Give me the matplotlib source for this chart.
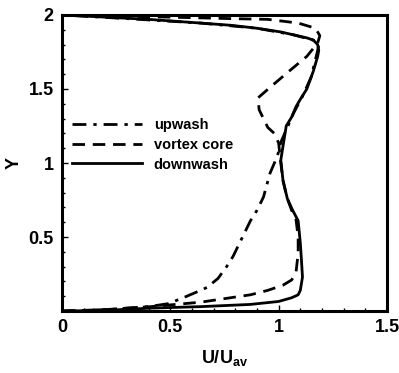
#!/usr/bin/env python3
# -*- coding: utf-8 -*-

import matplotlib
matplotlib.use("Agg")
import matplotlib.pyplot as plt
from matplotlib.ticker import MultipleLocator

# Velocity profiles (U/U_av vs Y)
UPWASH_U = [0, 0.2, 0.4, 0.49, 0.56, 0.64, 0.67, 0.72, 0.76, 0.79, 0.82, 0.87,
            0.90, 0.93, 0.96, 0.995, 1.01, 1.04, 1.07, 1.11, 1.15, 1.18, 1.185,
            1.16, 1.07, 0.9, 0.64, 0.3, 0]
UPWASH_Y = [0, 0.01, 0.03, 0.05, 0.09, 0.14, 0.16, 0.22, 0.30, 0.37, 0.46, 0.61,
            0.68, 0.77, 0.93, 1.05, 1.14, 1.24, 1.34, 1.45, 1.58, 1.76, 1.80,
            1.83, 1.865, 1.91, 1.945, 1.975, 2.0]

VORTEX_U = [0, 0.2, 0.41, 0.64, 0.87, 0.95, 1.02, 1.06, 1.08, 1.09, 1.09, 1.08,
            1.06, 1.04, 1.02, 1.01, 1.0, 0.98, 0.95, 0.93, 0.91, 0.905, 0.96,
            1.04, 1.13, 1.18, 1.19, 1.17, 1.09, 0.95, 0.78, 0.5, 0]
VORTEX_Y = [0, 0.01, 0.03, 0.06, 0.11, 0.14, 0.175, 0.21, 0.26, 0.39, 0.5, 0.62,
            0.68, 0.76, 0.88, 1.0, 1.135, 1.2, 1.24, 1.30, 1.36, 1.44, 1.51,
            1.61, 1.72, 1.81, 1.86, 1.91, 1.945, 1.97, 1.975, 1.985, 2.0]

DOWNWASH_U = [0, 0.2, 0.41, 0.64, 0.87, 1.0, 1.06, 1.09, 1.10, 1.11, 1.105, 1.10,
              1.09, 1.065, 1.04, 1.02, 1.01, 1.035, 1.06, 1.08, 1.10, 1.13, 1.16,
              1.18, 1.185, 1.18, 1.16, 1.13, 1.07, 1.01, 0.9, 0.78, 0.64, 0.4,
              0.2, 0]
DOWNWASH_Y = [0, 0.005, 0.02, 0.03, 0.045, 0.065, 0.09, 0.11, 0.14, 0.23, 0.35, 0.46,
              0.61, 0.68, 0.76, 0.885, 1.02, 1.25, 1.31, 1.38, 1.43, 1.50, 1.62,
              1.72, 1.76, 1.80, 1.83, 1.845, 1.865, 1.885, 1.91, 1.93, 1.945, 1.97,
              1.985, 2.0]

X_TICKS = [0, 0.5, 1, 1.5]
X_LABELS = ["0", "0.5", "1", "1.5"]
Y_TICKS = [0.5, 1, 1.5, 2]
Y_LABELS = ["0.5", "1", "1.5", "2"]

plt.rcParams['font.family'] = ['Liberation Sans', 'DejaVu Sans']
plt.rcParams['font.weight'] = 'bold'
plt.rcParams['mathtext.fontset'] = 'custom'
plt.rcParams['mathtext.bf'] = 'Liberation Sans:bold'
plt.rcParams['mathtext.rm'] = 'Liberation Sans:bold'

fig = plt.figure(figsize=(3.99, 3.73), dpi=100)
ax = fig.add_axes([0.155, 0.166, 0.815, 0.794])

lw = 2.0
ax.plot(UPWASH_U, UPWASH_Y, color='black', lw=lw, dashes=(5, 2.5, 1.2, 2.5),
        label='upwash')
ax.plot(VORTEX_U, VORTEX_Y, color='black', lw=lw, dashes=(4.5, 2.8),
        label='vortex core')
ax.plot(DOWNWASH_U, DOWNWASH_Y, color='black', lw=lw, label='downwash')

ax.set_xlim(0, 1.5)
ax.set_ylim(0, 2)
ax.set_xticks(X_TICKS)
ax.set_xticklabels(X_LABELS)
ax.set_yticks(Y_TICKS)
ax.set_yticklabels(Y_LABELS)
ax.xaxis.set_minor_locator(MultipleLocator(0.1))
ax.yaxis.set_minor_locator(MultipleLocator(0.1))
ax.tick_params(which='both', direction='in', top=False, right=False,
               labelsize=13, width=1)
ax.tick_params(which='major', length=4, pad=6)
ax.tick_params(which='minor', length=2)
for sp in ax.spines.values():
    sp.set_linewidth(2.2)

ax.set_xlabel(r'$\mathbf{U/U_{av}}$', fontsize=13)
ax.xaxis.set_label_coords(0.5, -0.125)
ax.set_ylabel('Y', fontsize=13, fontweight='bold', rotation=90)
ax.yaxis.set_label_coords(-0.12, 0.5)

ax.legend(loc='upper left', bbox_to_anchor=(0.0, 0.685), frameon=False,
          fontsize=10.5, handlelength=4.8, handletextpad=0.8, labelspacing=0.38,
          borderaxespad=0.3)

fig.savefig('out.png', dpi=100)
